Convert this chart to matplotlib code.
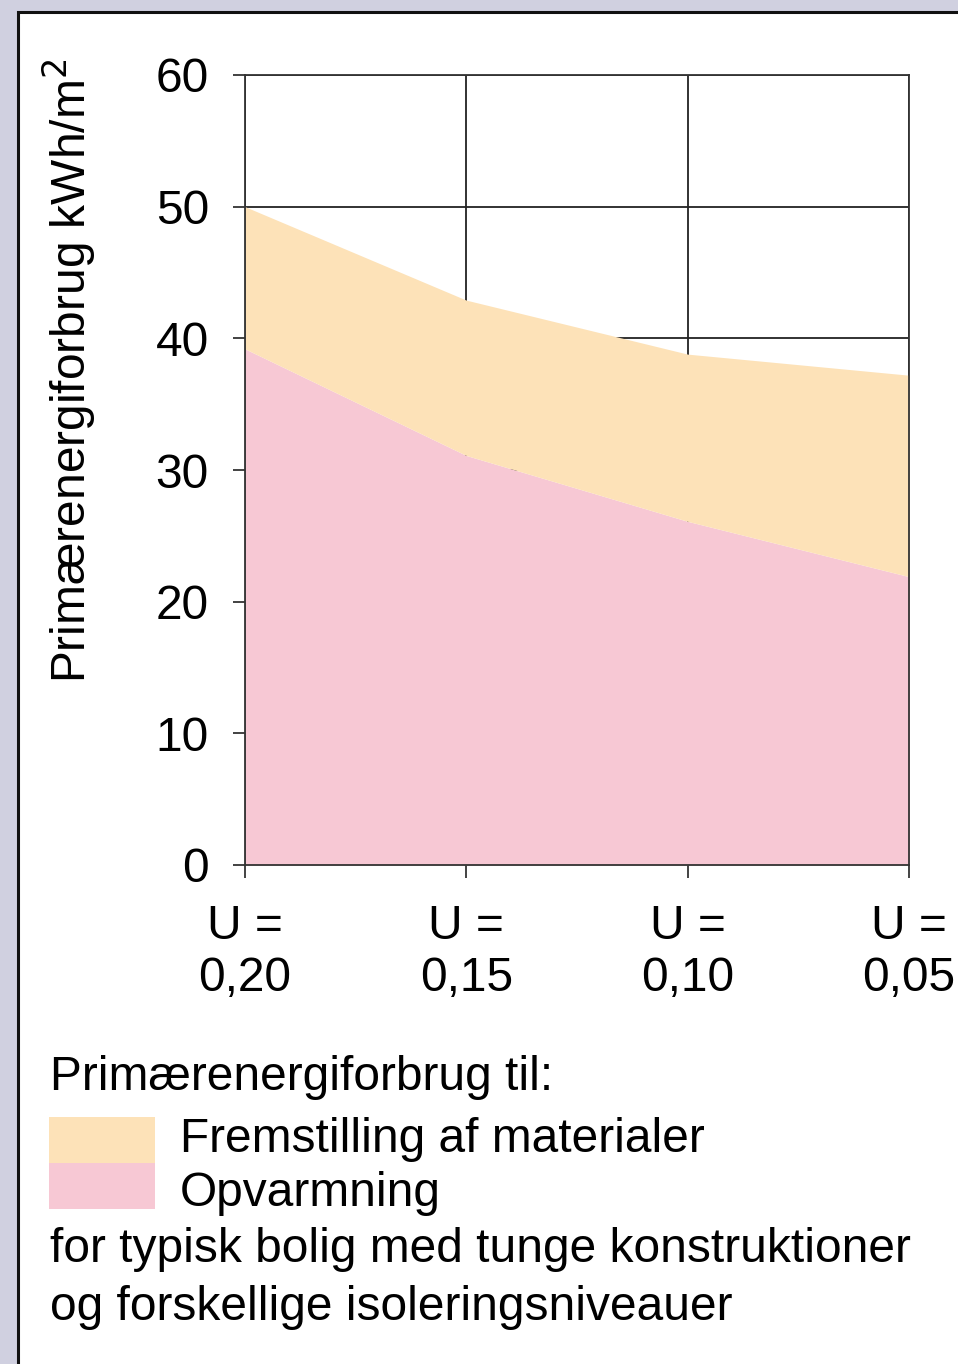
import matplotlib
matplotlib.use('Agg')
import numpy as np
from matplotlib import pyplot as plt
from matplotlib.patches import Rectangle

u_labels = ['U =\n0,20', 'U =\n0,15', 'U =\n0,10', 'U =\n0,05']
opvarmning = [39.2, 31.1, 26.1, 21.9]
total = [50.0, 42.9, 38.8, 37.2]

ORANGE = '#fde2b8'
PINK = '#f7c8d4'

plt.rcParams['font.family'] = ['Liberation Sans', 'DejaVu Sans']
FS = 34.5

fig = plt.figure(figsize=(9.58, 13.64), dpi=100)
fig.patch.set_facecolor('#d0d0e0')
fig.patches.append(Rectangle((18 / 958, -0.1), 1.2, 1.1 - 11.5 / 1364,
                             transform=fig.transFigure, facecolor='white',
                             edgecolor='#111111', linewidth=2.2, zorder=-5))

ax = fig.add_axes([245 / 958, 499 / 1364, 664 / 958, 790 / 1364])
x = np.arange(len(u_labels))
ax.fill_between(x, 0, opvarmning, color=PINK, linewidth=0, zorder=1)
ax.fill_between(x, opvarmning, total, color=ORANGE, linewidth=0, zorder=1)

ax.set_xlim(0, 3)
ax.set_ylim(0, 60)
ax.set_yticks(range(0, 61, 10))
ax.set_xticks(x)
ax.set_xticklabels(u_labels, fontsize=FS, linespacing=1.2)
ax.tick_params(axis='y', labelsize=FS, length=9, width=1.2, pad=17, color='#222222')
ax.tick_params(axis='x', length=9, width=1.2, pad=19, color='#222222')
ax.grid(True, color='#222222', linewidth=1.3)
ax.set_axisbelow(True)
for s in ax.spines.values():
    s.set_color('#333333')
    s.set_linewidth(1.3)
ax.set_ylabel('Primærenergiforbrug kWh/m$^2$', fontsize=FS)
ax.yaxis.set_label_coords(-0.222, 0.625)

fig.text(50 / 958, 1 - 1078 / 1364, 'Primærenergiforbrug til:', fontsize=FS,
         va='center', ha='left')
fig.patches.append(Rectangle((49 / 958, 1 - 1163 / 1364), 106 / 958, 46 / 1364,
                             transform=fig.transFigure, facecolor=ORANGE,
                             linewidth=0))
fig.patches.append(Rectangle((49 / 958, 1 - 1209 / 1364), 106 / 958, 46 / 1364,
                             transform=fig.transFigure, facecolor=PINK,
                             linewidth=0))
fig.text(180 / 958, 1 - 1140 / 1364, 'Fremstilling af materialer', fontsize=FS,
         va='center', ha='left')
fig.text(180 / 958, 1 - 1193 / 1364, 'Opvarmning', fontsize=FS,
         va='center', ha='left')
fig.text(50 / 958, 1 - 1250 / 1364, 'for typisk bolig med tunge konstruktioner',
         fontsize=FS, va='center', ha='left')
fig.text(50 / 958, 1 - 1307 / 1364, 'og forskellige isoleringsniveauer',
         fontsize=FS, va='center', ha='left')

fig.savefig('out.png', dpi=100, facecolor=fig.get_facecolor())
